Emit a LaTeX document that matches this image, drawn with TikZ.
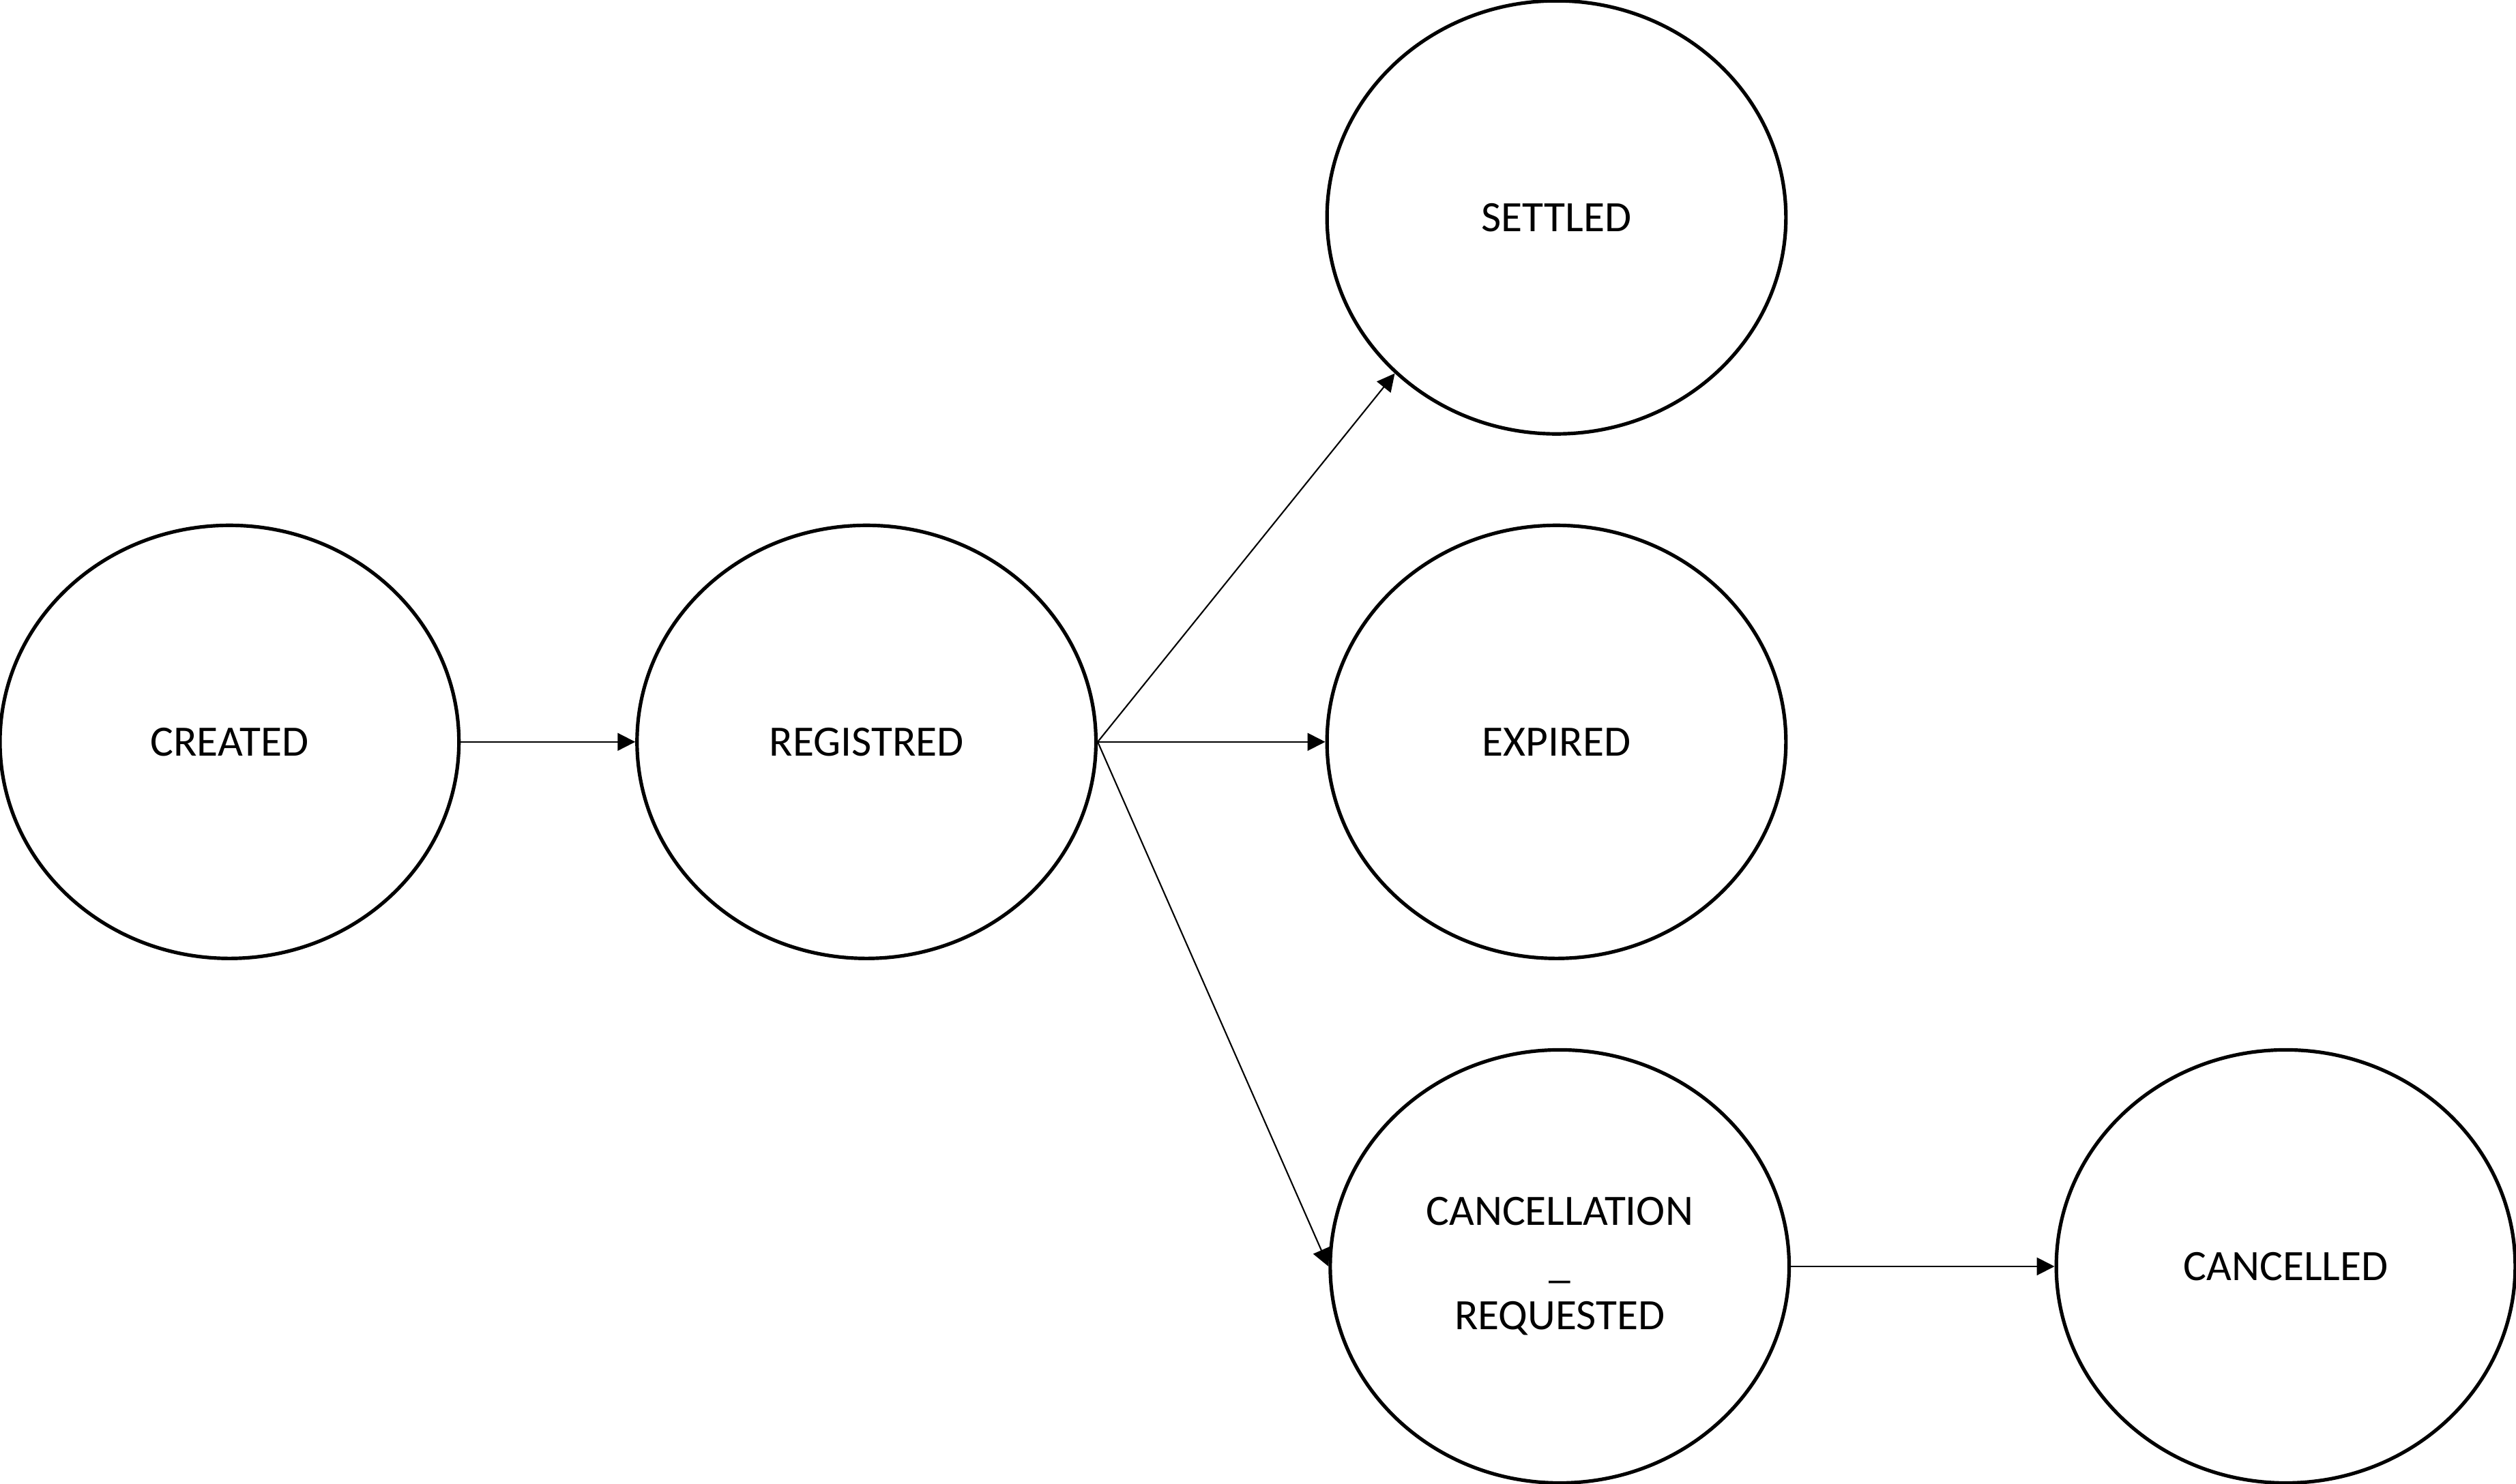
\documentclass[tikz,border=0pt]{standalone}
\usepackage{fontspec}
\setmainfont{Carlito}
\usetikzlibrary{shapes.geometric,arrows.meta}
\begin{document}
\begin{tikzpicture}[x=1pt,y=-1pt,
  state/.style={draw=black, line width=2.2pt, ellipse, minimum width=286pt, minimum height=270pt, inner sep=0pt, align=center, font=\fontsize{27}{32.5}\selectfont},
  link/.style={draw=black, line width=0.9pt, -{Triangle[length=11pt,width=11pt]}}]
\useasboundingbox (0,0) rectangle (1568,925.15);
\node[state] (created) at (143,462.5) {CREATED};
\node[state] (registred) at (540,462.5) {REGISTRED};
\node[state] (settled) at (970,135.5) {SETTLED};
\node[state] (expired) at (970,462.5) {EXPIRED};
\node[state] (cancreq) at (972,789.5) {CANCELLATION\\\_\\REQUESTED};
\node[state] (cancelled) at (1424.5,789.5) {CANCELLED};
\draw[link] (created.east) -- (registred.west);
\draw[link] (registred.east) -- (settled.224);
\draw[link] (registred.east) -- (expired.west);
\draw[link] (registred.east) -- (cancreq.west);
\draw[link] (cancreq.east) -- (cancelled.west);
\end{tikzpicture}
\end{document}
